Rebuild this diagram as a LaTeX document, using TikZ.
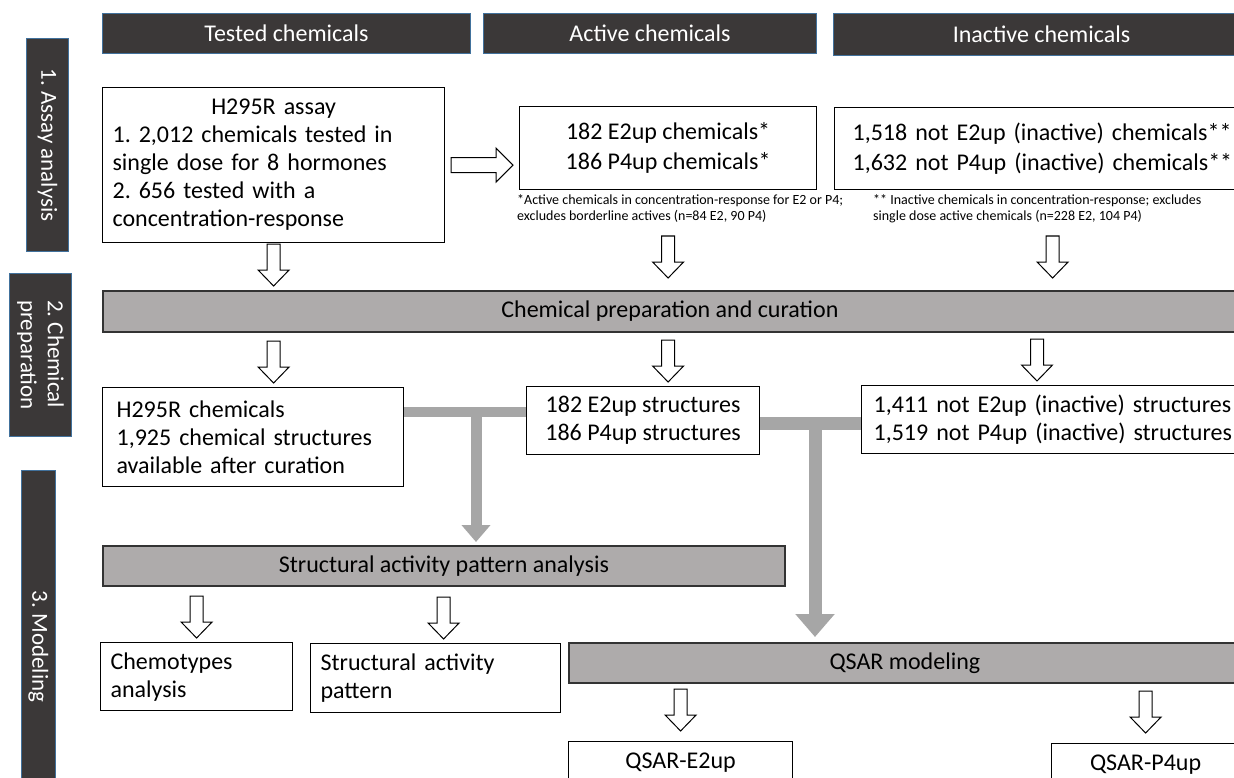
\documentclass[tikz,border=0pt]{standalone}
\usepackage{fontspec}
\setmainfont{Carlito}
\usetikzlibrary{arrows.meta,calc}

\definecolor{darkbar}{HTML}{3B3838}
\definecolor{barline}{HTML}{41719C}
\definecolor{stagefill}{HTML}{AEABAB}
\definecolor{linkgray}{HTML}{A6A6A6}

\tikzset{
  header/.style={draw=barline, line width=1pt, fill=darkbar, text=white, anchor=north west, inner sep=0pt, font=\fontsize{24}{28}\selectfont},
  sidebar/.style={draw=barline, line width=1pt, fill=darkbar, text=white, anchor=north west, inner sep=0pt},
  sidetext/.style={text=white, rotate=-90, align=left, inner sep=0pt, font=\fontsize{23}{27}\selectfont},
  box/.style={draw, line width=1.2pt, fill=white, anchor=north west, inner sep=0pt, font=\fontsize{24}{28}\selectfont},
  stage/.style={draw=black!80, line width=1.8pt, fill=stagefill, anchor=north west, inner sep=0pt, font=\fontsize{24}{28}\selectfont},
  note/.style={anchor=north west, inner sep=0pt, align=left, font=\fontsize{14}{16}\selectfont},
  link/.style={draw=linkgray},
  % block arrow pointing down onto the target point
  hollow/.style={draw, fill=white, line width=1pt, to path={
    ($(\tikztotarget)+(-6.5,-46)$) -- ++(13,0) -- ++(0,26) -- ++(9,0)
    -- ($(\tikztotarget)+(0,-4)$) -- ++(-15.5,-16) -- ++(9,0) -- cycle}},
  % block arrow pointing right
  hollowright/.style={draw, fill=white, line width=1pt, to path={
    ($(\tikztostart)+(6,-7.5)$) -- ($(\tikztotarget |- \tikztostart)+(-23,-7.5)$) -- ++(0,-9.5)
    -- ($(\tikztotarget |- \tikztostart)+(-6,0)$) -- ($(\tikztotarget |- \tikztostart)+(-23,17)$)
    -- ++(0,-9.5) -- ($(\tikztostart)+(6,7.5)$) -- cycle}}
}

\begin{document}
\frenchspacing
\begin{tikzpicture}[x=1pt,y=1pt,yscale=-1,xscale=1]
    \useasboundingbox (0,0) rectangle (1234,778);
    \fill[white] (0,0) rectangle (1234,778);
    \clip (0,0) rectangle (1234,778);

    % Column headers
    \node[header, minimum width=368pt, minimum height=40pt] (tested) at (102,13) {Tested chemicals};
    \node[header, minimum width=333pt, minimum height=40pt] (activehead) at (483,13) {Active chemicals};
    \node[header, minimum width=416pt, minimum height=42pt] (inactivehead) at (833,13) {Inactive chemicals};

    % Side bars
    \node[sidebar, minimum width=42pt, minimum height=213pt] (stage1) at (26,38) {};
    \node[sidetext] at (stage1.center) {1. Assay analysis};
    \node[sidebar, minimum width=62pt, minimum height=163pt] (stage2) at (9,273) {};
    \node[sidetext] at (stage2.center) {2. Chemical\\preparation};
    \node[sidebar, minimum width=34pt, minimum height=352pt] (stage3) at (21,470) {};
    \node[sidetext] at (stage3.center) {3. Modeling};

    % 1. Assay analysis
    \node[box, minimum width=342pt, minimum height=155pt, text width=322pt, align=left] (assay) at (102,87)
      {{\centering H295R assay\par}1. 2,012 chemicals tested in\\single dose for 8 hormones\\2. 656 tested with a\\concentration-response};
    \node[box, minimum width=297pt, minimum height=83pt, align=center, font=\fontsize{24}{30}\selectfont] (active) at (519,106)
      {182 E2up chemicals*\\186 P4up chemicals*};
    \node[box, minimum width=436pt, minimum height=82pt, text width=400pt, align=left, font=\fontsize{24}{30}\selectfont] (inactive) at (834,107)
      {1,518 not E2up (inactive) chemicals**\\1,632 not P4up (inactive) chemicals**};
    \node[note] (actnote) at (517,194) {*Active chemicals in concentration-response for E2 or P4;\\excludes borderline actives (n=84 E2, 90 P4)};
    \node[note] (inanote) at (873,194) {** Inactive chemicals in concentration-response; excludes\\single dose active chemicals (n=228 E2, 104 P4)};

    \draw[hollowright] (assay.east) to (active.west);

    % 2. Chemical preparation
    \node[stage, minimum width=1134pt, minimum height=41pt] (prep) at (102,290) {Chemical preparation and curation};
    \node[box, minimum width=301pt, minimum height=99pt, text width=273pt, align=left] (chem) at (102,387)
      {H295R chemicals\\1,925 chemical structures\\available after curation};
    \node[box, minimum width=233pt, minimum height=68pt, align=center] (actstr) at (526,386)
      {182 E2up structures\\186 P4up structures};
    \node[box, minimum width=420pt, minimum height=68pt, text width=396pt, align=left] (inastr) at (861,385)
      {1,411 not E2up (inactive) structures\\1,519 not P4up (inactive) structures};

    \draw[hollow] (assay) to (assay.south |- prep.north);
    \draw[hollow] (active) to ([yshift=-8pt]active.south |- prep.north);
    \draw[hollow] (inactive) to ([yshift=-8pt]inactive.south |- prep.north);
    \draw[hollow] (prep) to (assay.south |- chem.north);
    \draw[hollow] (prep) to (active.south |- actstr.north);
    \draw[hollow] (prep) to ($(inastr.north west)+(176,0)$);

    % 3. Modeling
    \node[stage, minimum width=682pt, minimum height=40pt] (sap) at (102,545) {Structural activity pattern analysis};
    \node[stage, minimum width=672pt, minimum height=40pt] (qsar) at (568,642) {QSAR modeling};
    \node[box, minimum width=192pt, minimum height=68pt, text width=172pt, align=left] (chemo) at (100,642)
      {Chemotypes\\analysis};
    \node[box, minimum width=250pt, minimum height=69pt, text width=230pt, align=left] (sapbox) at (310,643)
      {Structural activity\\pattern};
    \node[box, minimum width=224pt, minimum height=42pt] (qsare2) at (568,741) {QSAR-E2up};
    \node[box, minimum width=188pt, minimum height=42pt] (qsarp4) at (1051,743) {QSAR-P4up};

    \draw[hollow] (sap) to (chemo.north);
    \draw[hollow] (sap) to ([xshift=8pt]sapbox.north);
    \draw[hollow] (qsar) to ([yshift=-6pt]qsare2.north);
    \draw[hollow] (qsar) to ([yshift=-6pt]qsarp4.north);

    % gray links to the modeling steps
    \coordinate (j1) at (476,412);
    \coordinate (j2) at (815,423);
    \draw[link, line width=10pt] (chem.east |- j1) -- (actstr.west |- j1);
    \draw[link, line width=11pt, -{Triangle[width=28pt,length=17pt]}, shorten >=3pt] (j1) -- (j1 |- sap.north);
    \draw[link, line width=13pt] (actstr.east |- j2) -- (inastr.west |- j2);
    \draw[link, line width=13pt, -{Triangle[width=38pt,length=23pt]}, shorten >=5pt] (j2) -- (j2 |- qsar.north);

\end{tikzpicture}
\end{document}
